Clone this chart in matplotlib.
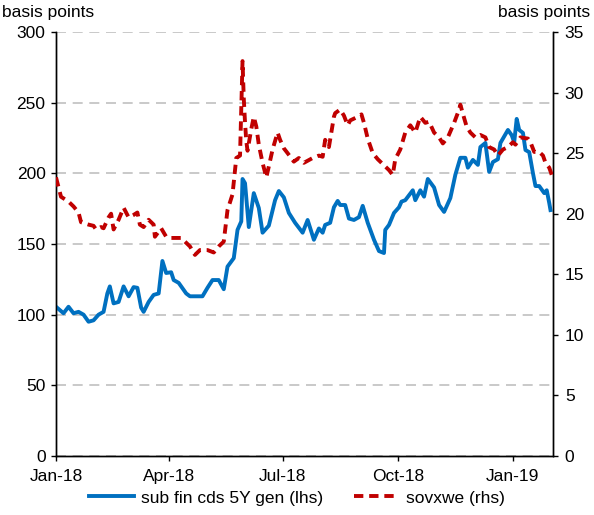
import matplotlib
matplotlib.use("Agg")
import matplotlib.pyplot as plt
import pandas as pd

plt.rcParams['font.family'] = ['Liberation Sans', 'DejaVu Sans']

# ---- data ----
blue_dates = [
    "2018-01-01", "2018-01-07", "2018-01-11", "2018-01-15", "2018-01-19", "2018-01-23",
    "2018-01-27", "2018-01-31", "2018-02-04", "2018-02-08", "2018-02-11", "2018-02-13",
    "2018-02-16", "2018-02-20", "2018-02-24", "2018-02-28", "2018-03-04", "2018-03-07",
    "2018-03-10", "2018-03-12", "2018-03-16", "2018-03-20", "2018-03-24", "2018-03-27",
    "2018-03-30", "2018-04-03", "2018-04-05", "2018-04-09", "2018-04-15", "2018-04-18",
    "2018-04-28", "2018-05-02", "2018-05-06", "2018-05-11", "2018-05-15", "2018-05-18",
    "2018-05-23", "2018-05-26", "2018-05-29", "2018-05-30", "2018-06-01", "2018-06-04",
    "2018-06-08", "2018-06-12", "2018-06-15", "2018-06-20", "2018-06-25", "2018-06-28",
    "2018-07-02", "2018-07-06", "2018-07-11", "2018-07-17", "2018-07-21", "2018-07-26",
    "2018-07-30", "2018-08-02", "2018-08-04", "2018-08-08", "2018-08-11", "2018-08-14",
    "2018-08-16", "2018-08-20", "2018-08-23", "2018-08-27", "2018-08-31", "2018-09-03",
    "2018-09-07", "2018-09-12", "2018-09-16", "2018-09-20", "2018-09-21", "2018-09-24",
    "2018-09-28", "2018-10-02", "2018-10-04", "2018-10-07", "2018-10-13", "2018-10-15",
    "2018-10-19", "2018-10-22", "2018-10-25", "2018-10-30", "2018-11-03", "2018-11-07",
    "2018-11-12", "2018-11-16", "2018-11-20", "2018-11-24", "2018-11-26", "2018-11-30",
    "2018-12-04", "2018-12-06", "2018-12-10", "2018-12-13", "2018-12-16", "2018-12-20",
    "2018-12-22", "2018-12-28", "2018-12-31", "2019-01-02", "2019-01-04", "2019-01-06",
    "2019-01-09", "2019-01-11", "2019-01-14", "2019-01-17", "2019-01-19", "2019-01-22",
    "2019-01-26", "2019-01-28", "2019-01-30", "2019-01-31",
]
sub_fin_cds = [
    105.6, 101, 105.6, 101, 102, 100,
    95, 96, 100, 102, 115, 120,
    108, 109, 120, 113, 119.5, 119,
    105, 102, 109, 114, 115, 138,
    129.5, 130, 124.5, 122.5, 115, 113,
    113, 119, 124.5, 124.5, 118, 134,
    140, 160, 166, 196, 193, 162,
    186, 175.5, 158, 163, 181, 187.5,
    183, 172, 165, 158, 167, 153,
    161, 158, 163.5, 165, 176, 180.5,
    177.6, 177.6, 168, 167, 169, 177,
    165, 153, 145, 143.6, 160, 163.5,
    172, 176, 180, 181, 188, 181,
    188, 183.5, 196, 190, 177.6, 172.7,
    182.5, 199, 211, 211, 204, 209.5,
    206, 218.6, 221.5, 201, 208, 210,
    221.5, 230.7, 227, 222, 238.5, 230.7,
    228.6, 216.5, 215, 200, 191, 191,
    186, 188, 179, 174,
]

red_dates = [
    "2018-01-01", "2018-01-05", "2018-01-11", "2018-01-15", "2018-01-19", "2018-01-21",
    "2018-01-27", "2018-01-31", "2018-02-02", "2018-02-06", "2018-02-08", "2018-02-12",
    "2018-02-14", "2018-02-16", "2018-02-20", "2018-02-24", "2018-02-28", "2018-03-04",
    "2018-03-07", "2018-03-09", "2018-03-12", "2018-03-16", "2018-03-20", "2018-03-21",
    "2018-03-26", "2018-03-30", "2018-04-03", "2018-04-11", "2018-04-13", "2018-04-18",
    "2018-04-22", "2018-04-26", "2018-05-02", "2018-05-07", "2018-05-11", "2018-05-15",
    "2018-05-18", "2018-05-22", "2018-05-25", "2018-05-28", "2018-05-30", "2018-05-31",
    "2018-06-01", "2018-06-02", "2018-06-03", "2018-06-06", "2018-06-08", "2018-06-10",
    "2018-06-12", "2018-06-15", "2018-06-18", "2018-06-20", "2018-06-23", "2018-06-27",
    "2018-06-29", "2018-07-02", "2018-07-05", "2018-07-10", "2018-07-14", "2018-07-18",
    "2018-07-25", "2018-07-30", "2018-08-02", "2018-08-04", "2018-08-07", "2018-08-11",
    "2018-08-12", "2018-08-16", "2018-08-19", "2018-08-22", "2018-08-24", "2018-08-30",
    "2018-09-02", "2018-09-04", "2018-09-07", "2018-09-11", "2018-09-15", "2018-09-20",
    "2018-09-24", "2018-09-27", "2018-09-29", "2018-10-03", "2018-10-07", "2018-10-11",
    "2018-10-15", "2018-10-19", "2018-10-23", "2018-10-26", "2018-10-30", "2018-11-03",
    "2018-11-06", "2018-11-10", "2018-11-15", "2018-11-19", "2018-11-20", "2018-11-23",
    "2018-11-25", "2018-11-28", "2018-12-02", "2018-12-06", "2018-12-10", "2018-12-13",
    "2018-12-17", "2018-12-20", "2018-12-24", "2018-12-28", "2019-01-01", "2019-01-03",
    "2019-01-07", "2019-01-13", "2019-01-15", "2019-01-18", "2019-01-22", "2019-01-25",
    "2019-01-27", "2019-01-30", "2019-02-01",
]
sovxwe = [
    23.0, 21.4, 21.0, 20.6, 20.1, 19.3,
    19.1, 19.0, 18.7, 18.9, 18.8, 19.7,
    20.0, 18.7, 19.5, 20.5, 19.7, 19.9,
    20.1, 19.1, 18.9, 19.5, 19.1, 18.1,
    18.8, 18.1, 18.0, 18.0, 17.8, 17.3,
    16.6, 17.0, 17.0, 16.8, 17.3, 17.7,
    20.3, 21.6, 24.6, 24.8, 32.6, 29.5,
    27.5, 26.0, 25.2, 27.0, 28.0, 27.2,
    25.7, 24.2, 23.0, 23.9, 25.3, 26.7,
    26.1, 25.4, 25.0, 24.3, 24.6, 24.2,
    24.6, 24.8, 24.7, 26.1, 25.5, 28.0,
    28.3, 28.6, 28.1, 27.3, 27.7, 28.0,
    28.2, 27.5, 26.2, 25.0, 24.5, 24.0,
    23.6, 23.2, 24.5, 25.3, 26.7, 27.3,
    26.7, 28.0, 27.5, 27.6, 26.7, 26.3,
    25.8, 26.3, 27.5, 28.6, 29.0, 27.9,
    27.2, 26.7, 26.3, 26.5, 26.3, 25.5,
    25.3, 24.8, 25.3, 25.5, 25.9, 25.7,
    26.3, 26.2, 25.9, 25.1, 25.1, 24.8,
    24.2, 23.8, 23.2,
]

tick_dates = ["2018-01-01", "2018-04-01", "2018-07-01", "2018-10-01", "2019-01-01"]
tick_labels = ["Jan-18", "Apr-18", "Jul-18", "Oct-18", "Jan-19"]
left_ticks = [0, 50, 100, 150, 200, 250, 300]
right_ticks = [0, 5, 10, 15, 20, 25, 30, 35]
series_names = ["sub fin cds 5Y gen (lhs)", "sovxwe (rhs)"]

FS = 12.5
BLUE = "#0070C0"
RED = "#C00000"

fig = plt.figure(figsize=(5.94, 5.15), dpi=100)
ax = fig.add_axes([56 / 594, 1 - 456 / 515, (553 - 56) / 594, (456 - 32) / 515])
ax2 = ax.twinx()

bx = pd.to_datetime(blue_dates)
rx = pd.to_datetime(red_dates)

l1, = ax.plot(bx, sub_fin_cds, color=BLUE, lw=2.8, solid_joinstyle='round', zorder=3)
l2, = ax2.plot(rx, sovxwe, color=RED, lw=2.8, linestyle=(0, (2.4, 1.5)), zorder=3)

ax.set_xlim(pd.Timestamp("2018-01-01"), pd.Timestamp("2019-02-02"))
ax.set_ylim(0, 300)
ax2.set_ylim(0, 35)
ax.set_yticks(left_ticks)
ax2.set_yticks(right_ticks)
ax.set_xticks(pd.to_datetime(tick_dates))
ax.set_xticklabels(tick_labels)

ax.yaxis.grid(True, color="#C0C0C0", linestyle=(0, (6, 4)), lw=1.2)
ax.set_axisbelow(True)

for a in (ax, ax2):
    a.spines['top'].set_visible(False)
    for s in a.spines.values():
        s.set_linewidth(1.0)
        s.set_color('black')
ax.tick_params(axis='both', direction='out', length=3.5, width=1, labelsize=FS, pad=4)
ax2.tick_params(axis='y', direction='out', length=3.5, width=1, labelsize=FS, pad=5)
ax.tick_params(axis='x', pad=6)

fig.text(2 / 594, 1 - 12 / 515, "basis points", fontsize=FS, ha='left', va='center')
fig.text(590 / 594, 1 - 12 / 515, "basis points", fontsize=FS, ha='right', va='center')

fig.legend([l1, l2], series_names, loc='lower center', bbox_to_anchor=(0.5, -0.012),
           ncol=2, frameon=False, fontsize=FS, handlelength=2.6, columnspacing=1.8,
           handletextpad=0.4)

fig.savefig("out.png", dpi=100)
